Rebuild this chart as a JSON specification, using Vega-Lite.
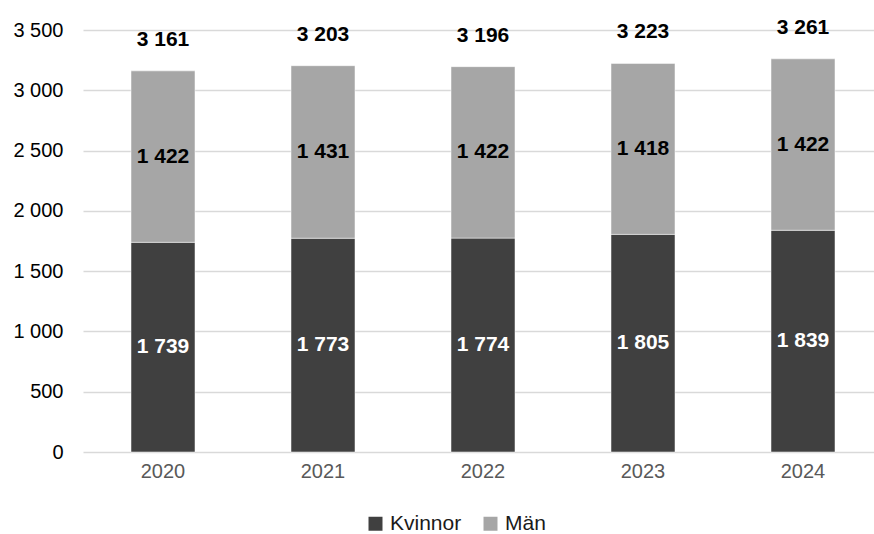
{
  "$schema": "https://vega.github.io/schema/vega-lite/v6.json",
  "width": 800,
  "height": 422,
  "autosize": {"type": "none"},
  "padding": {"left": 83, "top": 30, "right": 0, "bottom": 82},
  "background": "white",
  "config": {
    "locale": {"number": {"decimal": ",", "thousands": " ", "grouping": [3], "currency": ["", " kr"]}},
    "font": "Liberation Sans",
    "view": {"stroke": null}
  },
  "data": {
    "values": [
      {"year": "2020", "gender": "Kvinnor", "value": 1739},
      {"year": "2020", "gender": "Män", "value": 1422},
      {"year": "2021", "gender": "Kvinnor", "value": 1773},
      {"year": "2021", "gender": "Män", "value": 1431},
      {"year": "2022", "gender": "Kvinnor", "value": 1774},
      {"year": "2022", "gender": "Män", "value": 1422},
      {"year": "2023", "gender": "Kvinnor", "value": 1805},
      {"year": "2023", "gender": "Män", "value": 1418},
      {"year": "2024", "gender": "Kvinnor", "value": 1839},
      {"year": "2024", "gender": "Män", "value": 1422}
    ]
  },
  "encoding": {
    "x": {
      "field": "year",
      "type": "ordinal",
      "scale": {"paddingInner": 0.6, "paddingOuter": 0.3},
      "axis": {
        "title": null,
        "labelAngle": 0,
        "labelFontSize": 20,
        "labelColor": "#595959",
        "labelPadding": 9,
        "domain": false,
        "ticks": false
      }
    }
  },
  "layer": [
    {
      "mark": {"type": "bar", "stroke": "white", "strokeWidth": 0.5},
      "encoding": {
        "y": {
          "field": "value",
          "type": "quantitative",
          "stack": "zero",
          "scale": {"domain": [0, 3500]},
          "axis": {
            "title": null,
            "values": [0, 500, 1000, 1500, 2000, 2500, 3000, 3500],
            "format": ",d",
            "labelFontSize": 20,
            "labelColor": "#000000",
            "labelPadding": 20,
            "domain": false,
            "ticks": false,
            "grid": true,
            "gridColor": "#D9D9D9",
            "gridWidth": 1.3
          }
        },
        "order": {"field": "gender", "sort": "ascending"},
        "color": {
          "field": "gender",
          "type": "nominal",
          "scale": {"domain": ["Kvinnor", "Män"], "range": ["#404040", "#A6A6A6"]},
          "legend": {
            "title": null,
            "orient": "none",
            "direction": "horizontal",
            "legendX": 282,
            "legendY": 483,
            "symbolType": "square",
            "symbolSize": 196,
            "symbolStrokeWidth": 0,
            "labelFontSize": 21,
            "labelColor": "#1a1a1a",
            "labelOffset": 4,
            "columnPadding": 18,
            "padding": 0
          }
        }
      }
    },
    {
      "transform": [
        {"stack": "value", "groupby": ["year"], "sort": [{"field": "gender"}], "as": ["v0", "v1"]},
        {"calculate": "(datum.v0 + datum.v1) / 2", "as": "mid"}
      ],
      "mark": {"type": "text", "fontWeight": "bold", "fontSize": 21, "baseline": "middle"},
      "encoding": {
        "y": {"field": "mid", "type": "quantitative"},
        "text": {"field": "value", "type": "quantitative", "format": ",d"},
        "color": {"condition": {"test": "datum.gender === 'Kvinnor'", "value": "#FFFFFF"}, "value": "#000000"}
      }
    },
    {
      "data": {
        "values": [
          {"year": "2020", "total": 3161},
          {"year": "2021", "total": 3203},
          {"year": "2022", "total": 3196},
          {"year": "2023", "total": 3223},
          {"year": "2024", "total": 3261}
        ]
      },
      "mark": {"type": "text", "fontWeight": "bold", "fontSize": 21, "baseline": "middle", "dy": -31, "color": "#000000"},
      "encoding": {
        "y": {"field": "total", "type": "quantitative"},
        "text": {"field": "total", "type": "quantitative", "format": ",d"}
      }
    }
  ]
}
